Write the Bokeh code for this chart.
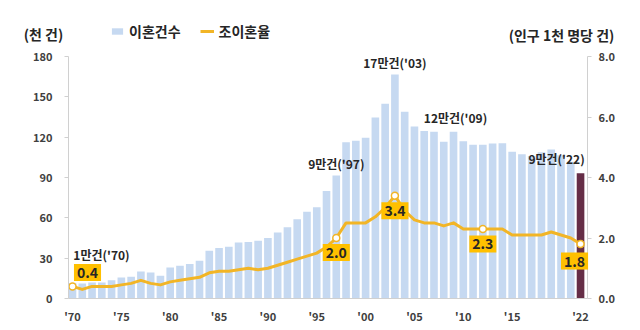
from bokeh.plotting import figure
from bokeh.models import (Range1d, LinearAxis, FixedTicker, Label, Legend, LegendItem,
                          ColumnDataSource, NumeralTickFormatter)
from bokeh.embed import file_html
from bokeh.resources import INLINE

# ---------------- data ----------------
years = list(range(1970, 2023))
divorces = [11.6, 11.2, 11.9, 11.9, 13.6, 15.6, 16.1, 20.1, 19.4, 16.9,
            23.1, 24.3, 25.6, 28.0, 35.5, 37.5, 38.5, 41.7, 42.0, 43.0,
            45.0, 49.0, 53.0, 59.0, 64.5, 67.8, 80.0, 91.5, 116.3, 117.4,
            119.5, 134.6, 144.9, 166.6, 138.9, 128.0, 124.5, 124.1, 116.5, 124.0,
            116.9, 114.3, 114.3, 115.3, 115.5, 109.2, 107.3, 106.0, 108.7, 110.8,
            106.5, 101.7, 93.2]
rates = [0.4, 0.3, 0.4, 0.4, 0.4, 0.45, 0.5, 0.6, 0.5, 0.45,
         0.55, 0.6, 0.65, 0.7, 0.85, 0.9, 0.9, 0.95, 1.0, 0.95,
         1.0, 1.1, 1.2, 1.3, 1.4, 1.5, 1.7, 2.0, 2.5, 2.5,
         2.5, 2.7, 3.0, 3.4, 2.9, 2.6, 2.5, 2.5, 2.4, 2.5,
         2.3, 2.3, 2.3, 2.3, 2.3, 2.1, 2.1, 2.1, 2.1, 2.2,
         2.1, 2.0, 1.8]

x_ticks = [1970, 1975, 1980, 1985, 1990, 1995, 2000, 2005, 2010, 2015, 2022]
x_tick_labels = ["'70", "'75", "'80", "'85", "'90", "'95", "'00", "'05", "'10", "'15", "'22"]
left_ticks = [0, 30, 60, 90, 120, 150, 180]
right_ticks = [0, 2, 4, 6, 8]
left_max = 180
right_max = 8

count_note_years = [1970, 1997, 2003, 2009, 2022]
count_note_texts = ["1만건('70)", "9만건('97)", "17만건('03)", "12만건('09)", "9만건('22)"]
rate_note_years = [1970, 1997, 2003, 2012, 2022]

series_names = ["이혼건수", "조이혼율"]
left_title = "(천 건)"
right_title = "(인구 1천 명당 건)"

# ---------------- styles / layout ----------------
FONT = "Noto Sans CJK KR"
BAR = "#C6D9F1"
BAR_LAST = "#652D46"
LINE = "#F2B526"
BOX = "#FFC000"
TXT = "#262626"
AX = "#D0D0D0"

W, H = 640, 330
PX_FIRST = 72            # canvas x of the first bar centre
PX_PER_YEAR = 9.77
AXIS_TOP_PX = 56         # canvas y of the top tick
AXIS_BOTTOM_PX = 298     # canvas y of the zero line
LEFT_AXIS_PX = 68
RIGHT_AXIS_PX = 587

# the frame covers the whole canvas; axes are pinned with fixed_location
x_start = years[0] - PX_FIRST / PX_PER_YEAR
x_end = x_start + W / PX_PER_YEAR
ppu = (AXIS_BOTTOM_PX - AXIS_TOP_PX) / left_max
y_start = -(H - AXIS_BOTTOM_PX) / ppu
y_end = AXIS_BOTTOM_PX / ppu
r_scale = right_max / left_max
left_axis_at = x_start + LEFT_AXIS_PX / PX_PER_YEAR
right_axis_at = x_start + RIGHT_AXIS_PX / PX_PER_YEAR

def fx(px):
    return x_start + px / PX_PER_YEAR

def fy(py):
    return (AXIS_BOTTOM_PX - py) / ppu

p = figure(width=W, height=H, output_backend="svg", toolbar_location=None,
           x_range=Range1d(x_start, x_end), y_range=Range1d(y_start, y_end),
           x_axis_location=None, y_axis_location=None,
           min_border_left=0, min_border_right=0, min_border_top=0,
           min_border_bottom=0, tools="")
p.outline_line_color = None
p.grid.visible = False
p.background_fill_color = "white"
p.border_fill_color = "white"
p.extra_y_ranges = {"rate": Range1d(y_start * r_scale, y_end * r_scale)}

colors = [BAR] * (len(years) - 1) + [BAR_LAST]
src = ColumnDataSource(dict(x=years, top=divorces, color=colors, rate=rates))
bars = p.vbar(x="x", top="top", bottom=0, width=0.78, fill_color="color",
              line_color=None, source=src)
line = p.line(x="x", y="rate", line_color=LINE, line_width=3, y_range_name="rate",
              source=src, line_join="round")

mk = ColumnDataSource(dict(x=rate_note_years,
                           y=[rates[years.index(y)] for y in rate_note_years]))
p.scatter(x="x", y="y", source=mk, size=7, marker="circle", fill_color="white",
          line_color=LINE, line_width=1.5, y_range_name="rate")

def style_axis(ax):
    ax.axis_line_color = AX
    ax.major_tick_line_color = AX
    ax.minor_tick_line_color = None
    ax.major_label_text_font = FONT
    ax.major_label_text_font_style = "bold"
    ax.major_label_text_font_size = "11px"
    ax.major_label_text_color = "#404040"

ya = LinearAxis(ticker=FixedTicker(ticks=left_ticks), bounds=(0, left_max),
                fixed_location=left_axis_at)
style_axis(ya)
ya.major_tick_out = 4
ya.major_tick_in = 0
ya.major_label_standoff = 12
p.add_layout(ya, "left")

ra = LinearAxis(y_range_name="rate", ticker=FixedTicker(ticks=right_ticks),
                formatter=NumeralTickFormatter(format="0.0"), bounds=(0, right_max),
                fixed_location=right_axis_at)
style_axis(ra)
ra.major_tick_out = 4
ra.major_tick_in = 0
ra.major_label_standoff = 7
p.add_layout(ra, "right")

xa = LinearAxis(ticker=FixedTicker(ticks=x_ticks), bounds=(left_axis_at, right_axis_at),
                fixed_location=0)
xa.major_label_overrides = {t: l for t, l in zip(x_ticks, x_tick_labels)}
style_axis(xa)
xa.major_tick_line_color = None
xa.major_label_standoff = 3
p.add_layout(xa, "below")

count_offsets = [(29, 28), (0, 12), (0, 12), (2, 14), (-24, 15)]
for yr, txt, (dx, dy) in zip(count_note_years, count_note_texts, count_offsets):
    p.add_layout(Label(x=yr, y=divorces[years.index(yr)], x_offset=dx, y_offset=dy,
                       text=txt, text_font=FONT, text_font_style="bold",
                       text_font_size="12px", text_color=TXT,
                       text_align="center", text_baseline="middle"))

rate_offsets = [(15, 14), (0, -14.5), (0, -15), (0, -15), (-6, -17)]
for yr, (dx, dy) in zip(rate_note_years, rate_offsets):
    v = rates[years.index(yr)]
    p.add_layout(Label(x=yr, y=v, y_range_name="rate", x_offset=dx, y_offset=dy,
                       text=f"{v:.1f}", text_font=FONT, text_font_style="bold",
                       text_font_size="14px", text_color=TXT,
                       text_align="center", text_baseline="middle",
                       background_fill_color=BOX, padding=3))

# axis titles above the plotting area
p.add_layout(Label(x=fx(43), y=fy(33), text=left_title, text_font=FONT,
                   text_font_style="bold", text_font_size="14px", text_color=TXT,
                   text_align="center", text_baseline="middle"))
p.add_layout(Label(x=fx(561), y=fy(34), text=right_title, text_font=FONT,
                   text_font_style="bold", text_font_size="14px", text_color=TXT,
                   text_align="center", text_baseline="middle"))

legend = Legend(items=[LegendItem(label=series_names[0], renderers=[bars], index=0),
                       LegendItem(label=series_names[1], renderers=[line])],
                orientation="horizontal", location=(110, H - 41),
                glyph_width=14, glyph_height=8, label_height=8,
                label_standoff=5, spacing=19, padding=0, margin=0,
                border_line_color=None, background_fill_alpha=0,
                label_text_font=FONT, label_text_font_style="bold",
                label_text_font_size="14px", label_text_color=TXT)
p.add_layout(legend, "center")

open("out.html", "w").write(file_html(p, INLINE))
